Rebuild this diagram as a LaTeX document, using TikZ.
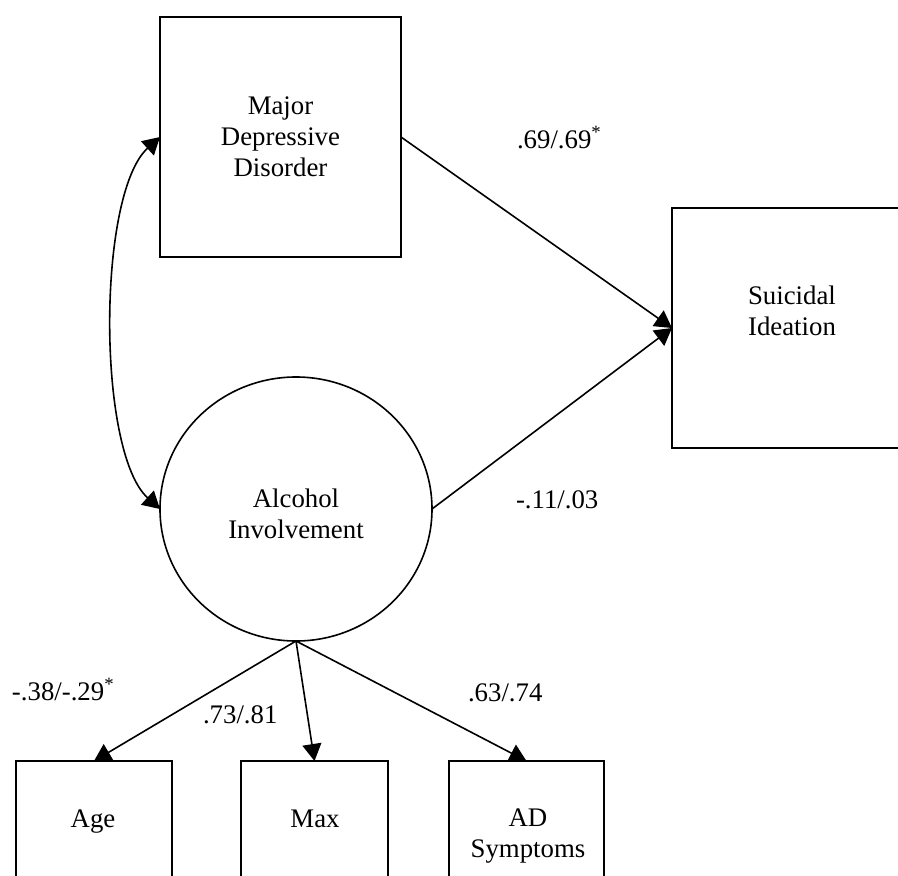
\documentclass[tikz,border=0pt]{standalone}
\usepackage{fontspec}
\setmainfont{Liberation Serif}
\usetikzlibrary{arrows.meta,shapes.geometric}
\begin{document}
\begin{tikzpicture}[x=1pt,y=-1pt,
  font=\fontsize{26.8}{31}\selectfont,
  box/.style={draw,line width=1.8pt,rectangle,inner sep=0pt,outer sep=0pt},
  latent/.style={draw,line width=1.6pt,ellipse,inner sep=0pt,outer sep=0pt,
    minimum width=272pt,minimum height=264pt},
  txt/.style={inner sep=0pt,outer sep=0pt,align=center},
  coef/.style={inner sep=0pt,outer sep=0pt,anchor=base west},
  effect/.style={line width=1.6pt,-{Triangle[length=17pt,width=19pt]}},
  covar/.style={line width=1.6pt,
    {Triangle[length=17pt,width=19pt]}-{Triangle[length=17pt,width=19pt]}}]
\useasboundingbox (0,0) rectangle (898,876);
\clip (0,0) rectangle (898,876);

% observed and latent variables
\node[box,minimum width=241pt,minimum height=240pt,align=center] (mdd) at (280.5,137)
  {Major\\Depressive\\Disorder};
\node[box,minimum width=240pt,minimum height=240pt] (si) at (792,328) {};
\node[txt] (sitxt) at (792,311) {Suicidal\\Ideation};
\node[latent] (ai) at (296,509) {};
\node[txt] (aitxt) at (296,514) {Alcohol\\Involvement};

% indicators of alcohol involvement
\node[box,minimum width=156pt,minimum height=160pt] (age) at (94,841) {};
\node[box,minimum width=147pt,minimum height=160pt] (max) at (314.5,841) {};
\node[box,minimum width=155pt,minimum height=160pt] (ad) at (526.5,841) {};
\node[txt,anchor=base] (agetxt) at (93,827) {Age};
\node[txt,anchor=base] (maxtxt) at (315,827) {Max};
\node[txt] (adtxt) at (528,836) {AD\\Symptoms};

% structural paths
\draw[effect] (mdd.east) -- (si.west);
\draw[effect] (ai.east) -- (si.west);
\draw[covar] (mdd.west) .. controls +(-63,57) and +(-63,-57) .. (ai.west);

% measurement paths
\draw[effect] (ai.south) -- (age.north);
\draw[effect] (ai.south) -- (max.north);
\draw[effect] (ai.south) -- (ad.north);

% coefficients
\node[coef] (b1) at (517,148) {.69/.69\textsuperscript{*}};
\node[coef] (b2) at (516,508) {-.11/.03};
\node[coef] (l1) at (12,700) {-.38/-.29\textsuperscript{*}};
\node[coef] (l2) at (203,723) {.73/.81};
\node[coef] (l3) at (468,701) {.63/.74};
\end{tikzpicture}
\end{document}
